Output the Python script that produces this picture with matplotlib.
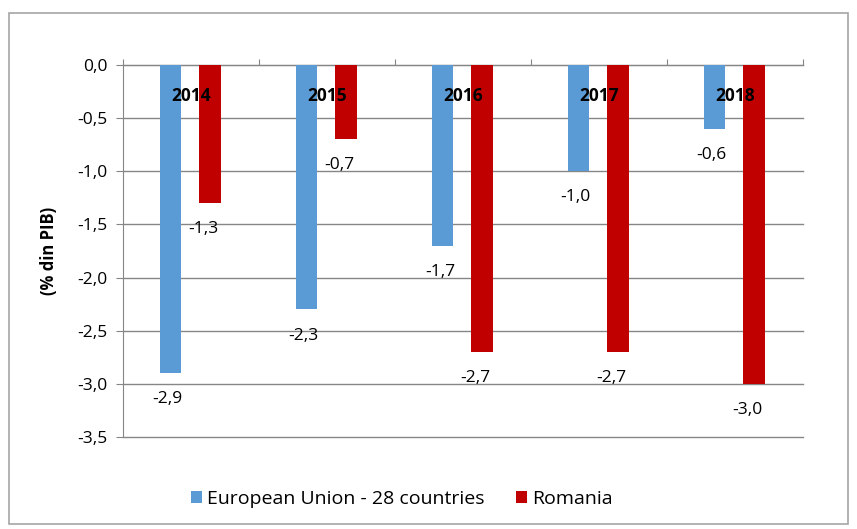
import numpy as np
import matplotlib
matplotlib.use("Agg")
import matplotlib.pyplot as plt
from matplotlib.patches import Rectangle

ani = ["2014", "2015", "2016", "2017", "2018"]
ue28 = [-2.9, -2.3, -1.7, -1.0, -0.6]
romania = [-1.3, -0.7, -2.7, -2.7, -3.0]
serii = ["European Union - 28 countries", "Romania"]

ALBASTRU = "#5b9bd5"
ROSU = "#c00000"
GRI = "#868686"
plt.rcParams["font.family"] = ["Open Sans", "DejaVu Sans"]

fig = plt.figure(figsize=(8.57, 5.29), dpi=100)
fig.patches.append(Rectangle((0.01, 0.01), 0.98, 0.965, transform=fig.transFigure,
                             fill=False, edgecolor="#a6a6a6", linewidth=1.2))
ax = fig.add_axes([0.1435, 0.174, 0.7935, 0.703])

x = np.arange(len(ani))
w = 0.16
ax.bar(x - 0.15, ue28, w, color=ALBASTRU, label=serii[0], zorder=3)
ax.bar(x + 0.14, romania, w, color=ROSU, label=serii[1], zorder=3)

fmt = lambda v: f"{v:.1f}".replace(".", ",")
for i in range(len(ani)):
    ax.annotate(fmt(ue28[i]), (x[i] - 0.15, ue28[i]), xytext=(-2, -13),
                textcoords="offset points", ha="center", va="top", fontsize=12.5)
    ax.annotate(fmt(romania[i]), (x[i] + 0.14, romania[i]), xytext=(-5, -13),
                textcoords="offset points", ha="center", va="top", fontsize=12.5)
    ax.text(x[i], -0.29, ani[i], ha="center", va="center", fontsize=12.5,
            fontweight="bold", zorder=4)

ax.set_xlim(-0.5, len(ani) - 0.5)
ax.set_ylim(-3.5, 0)
ticks = np.arange(-3.5, 0.01, 0.5)
ax.set_yticks(ticks)
ax.set_yticklabels([fmt(v) for v in ticks], fontsize=12.5)
for v in ticks:
    ax.axhline(v, color=GRI, linewidth=1, zorder=0, clip_on=False)
ax.xaxis.tick_top()
ax.set_xticks(np.arange(-0.5, len(ani), 1.0))
ax.set_xticklabels([])
ax.tick_params(axis="x", length=4, color=GRI, direction="out")
ax.tick_params(axis="y", length=5, color=GRI, pad=6)
for s in ["right", "bottom"]:
    ax.spines[s].set_visible(False)
ax.spines["left"].set_color(GRI)
ax.spines["top"].set_color(GRI)
ax.set_ylabel("(% din PIB)", fontsize=12, fontweight="bold", labelpad=14)

ax.legend(loc="upper center", bbox_to_anchor=(0.41, -0.095), ncol=2, frameon=False,
          fontsize=14, handlelength=0.6, handleheight=0.6, columnspacing=1.6,
          handletextpad=0.25)

fig.savefig("out.png", dpi=100)
